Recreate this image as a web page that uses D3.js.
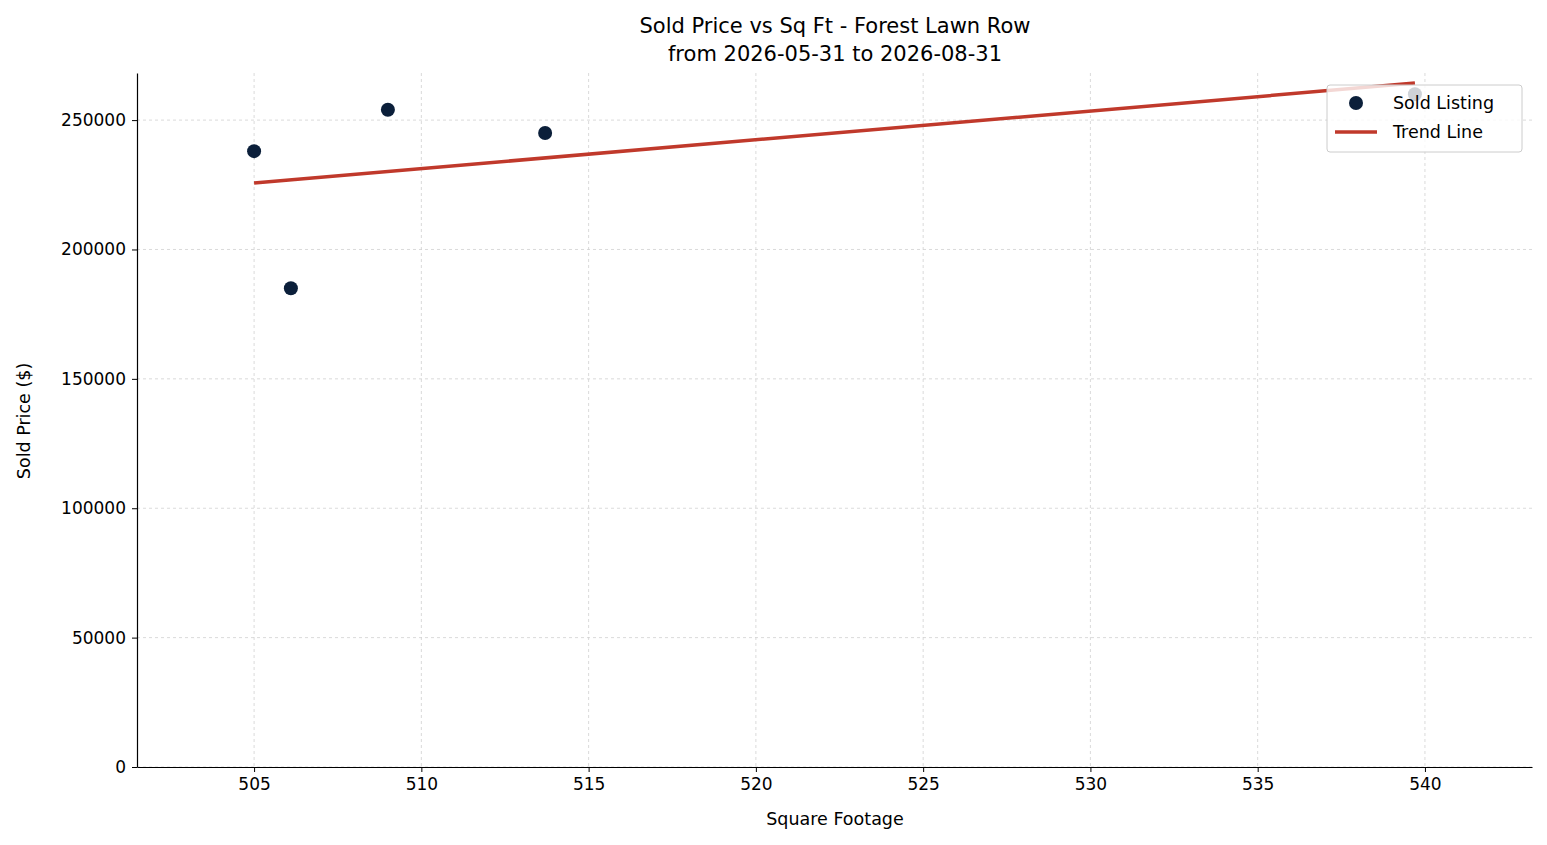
<!DOCTYPE html>
<html>
<head>
<meta charset="utf-8">
<script src="https://cdn.jsdelivr.net/npm/d3@7"></script>
<style>
  body { margin: 0; background: #fff; }
  svg text { font-family: "DejaVu Sans", sans-serif; fill: #000; }
</style>
</head>
<body>
<svg id="chart" width="1547" height="845"></svg>
<script>
// sold listings
const sqft = [505.0, 506.1, 509.0, 513.7, 539.7];
const price = [238000, 185000, 254000, 245000, 260000];
// trend line endpoints
const trendX = [505.0, 539.7];
const trendY = [225700, 264300];
const xTicks = [505, 510, 515, 520, 525, 530, 535, 540];
const yTicks = [0, 50000, 100000, 150000, 200000, 250000];

const svg = d3.select("#chart");
const margin = { top: 73, right: 15, bottom: 78, left: 137 };
const width = 1547, height = 845;

const x = d3.scaleLinear().domain([501.5, 543.2]).range([margin.left, width - margin.right]);
const y = d3.scaleLinear().domain([0, 268200]).range([height - margin.bottom, margin.top]);

// grid
svg.append("g").selectAll("line").data(xTicks).join("line")
  .attr("x1", d => x(d)).attr("x2", d => x(d))
  .attr("y1", margin.top).attr("y2", height - margin.bottom)
  .attr("stroke", "#d0d0d0").attr("stroke-width", 0.8).attr("stroke-dasharray", "3,3");
svg.append("g").selectAll("line").data(yTicks).join("line")
  .attr("x1", margin.left).attr("x2", width - margin.right)
  .attr("y1", d => y(d)).attr("y2", d => y(d))
  .attr("stroke", "#d0d0d0").attr("stroke-width", 0.8).attr("stroke-dasharray", "3,3");

// axes
const xAxis = svg.append("g").attr("transform", `translate(0,${height - margin.bottom})`)
  .call(d3.axisBottom(x).tickValues(xTicks).tickSize(5).tickSizeOuter(0).tickPadding(6));
const yAxis = svg.append("g").attr("transform", `translate(${margin.left},0)`)
  .call(d3.axisLeft(y).tickValues(yTicks).tickFormat(d3.format("d")).tickSize(5).tickSizeOuter(0).tickPadding(6));
[xAxis, yAxis].forEach(a => {
  a.attr("font-size", null).attr("font-family", null);
  a.selectAll("text").style("font-size", "17px");
  a.select(".domain").attr("stroke", "#000").attr("stroke-width", 1.2);
});

// points
svg.append("g").selectAll("circle").data(sqft).join("circle")
  .attr("cx", d => x(d)).attr("cy", (d, i) => y(price[i])).attr("r", 7)
  .attr("fill", "#0b1f3a");

// trend
svg.append("line")
  .attr("x1", x(trendX[0])).attr("y1", y(trendY[0]))
  .attr("x2", x(trendX[1])).attr("y2", y(trendY[1]))
  .attr("stroke", "#c0392b").attr("stroke-width", 3.5);

// titles
svg.append("text").attr("x", 835).attr("y", 33).attr("text-anchor", "middle")
  .style("font-size", "21px").text("Sold Price vs Sq Ft - Forest Lawn Row");
svg.append("text").attr("x", 835).attr("y", 61).attr("text-anchor", "middle")
  .style("font-size", "21px").text("from 2026-05-31 to 2026-08-31");
svg.append("text").attr("x", 835).attr("y", 825).attr("text-anchor", "middle")
  .style("font-size", "17.5px").text("Square Footage");
svg.append("text").attr("transform", "translate(30,421) rotate(-90)").attr("text-anchor", "middle")
  .style("font-size", "17.5px").text("Sold Price ($)");

// legend
const lg = svg.append("g").attr("transform", "translate(1327,85)");
lg.append("rect").attr("width", 195).attr("height", 67).attr("rx", 3)
  .attr("fill", "rgba(255,255,255,0.8)").attr("stroke", "#ccc");
lg.append("circle").attr("cx", 29).attr("cy", 18).attr("r", 7).attr("fill", "#0b1f3a");
lg.append("text").attr("x", 66).attr("y", 24).style("font-size", "17.5px").text("Sold Listing");
lg.append("line").attr("x1", 8).attr("x2", 50).attr("y1", 47).attr("y2", 47)
  .attr("stroke", "#c0392b").attr("stroke-width", 3.5);
lg.append("text").attr("x", 66).attr("y", 53).style("font-size", "17.5px").text("Trend Line");
</script>
</body>
</html>
